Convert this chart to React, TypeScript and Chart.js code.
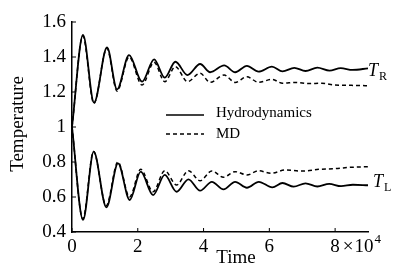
import { useEffect, useRef } from "react";
import { Chart, registerables } from "chart.js";
Chart.register(...registerables);

// ---- data (time, temperature) ----
const TR_HYDRO_T = [0, 3350, 6700, 10650, 13700, 17350, 21300, 24960, 28200, 31450, 35100, 38960, 42000, 46270, 49620, 53180, 56720, 60790, 64000, 67600, 71000, 74600, 78300, 81700, 85300, 90000];
const TR_HYDRO_V = [1.0, 1.526, 1.139, 1.455, 1.215, 1.411, 1.259, 1.387, 1.282, 1.373, 1.297, 1.36, 1.313, 1.352, 1.313, 1.349, 1.316, 1.345, 1.318, 1.338, 1.32, 1.339, 1.322, 1.336, 1.326, 1.335];

const TR_MD_T = [0, 3300, 6650, 10600, 13700, 17350, 21300, 24960, 28200, 31450, 35100, 38960, 42000, 46270, 49620, 53180, 56720, 60790, 64000, 68000, 72000, 76000, 80000, 85000, 90000];
const TR_MD_V = [1.0, 1.52, 1.135, 1.45, 1.205, 1.4, 1.24, 1.37, 1.259, 1.345, 1.259, 1.307, 1.255, 1.297, 1.255, 1.287, 1.255, 1.272, 1.25, 1.255, 1.248, 1.25, 1.24, 1.238, 1.236];

const TL_HYDRO_T = [0, 3350, 6600, 10450, 14000, 17550, 20900, 24650, 28200, 31800, 35400, 38960, 42520, 46060, 49600, 53180, 56800, 60900, 64000, 67400, 71000, 74600, 78200, 81800, 85400, 90000];
const TL_HYDRO_V = [1.0, 0.469, 0.859, 0.541, 0.792, 0.583, 0.745, 0.611, 0.726, 0.63, 0.701, 0.636, 0.687, 0.644, 0.687, 0.653, 0.687, 0.655, 0.68, 0.659, 0.678, 0.66, 0.675, 0.662, 0.67, 0.667];

const TL_MD_T = [0, 3300, 6550, 10400, 13950, 17500, 20900, 24650, 28200, 31800, 35400, 38960, 42520, 46060, 49600, 53180, 56800, 60500, 64800, 70000, 75000, 80000, 85000, 90000];
const TL_MD_V = [1.0, 0.475, 0.86, 0.55, 0.8, 0.6, 0.758, 0.63, 0.75, 0.669, 0.75, 0.693, 0.749, 0.713, 0.745, 0.726, 0.75, 0.735, 0.754, 0.748, 0.758, 0.762, 0.77, 0.773];

const X_TICKS = [0, 20000, 40000, 60000, 80000];
const Y_TICKS = [0.4, 0.6, 0.8, 1.0, 1.2, 1.4, 1.6];
const SERIES_NAMES = ["Hydrodynamics", "MD"];
const X_TITLE = "Time";
const Y_TITLE = "Temperature";

const SERIF = '"Liberation Serif", "Times New Roman", serif';

export default function App() {
  const ref = useRef<HTMLCanvasElement>(null);

  useEffect(() => {
    if (!ref.current) return;
    const pts = (t: number[], v: number[]) => t.map((x, i) => ({ x, y: v[i] }));

    const decor = {
      id: "decor",
      afterDraw(chart: any) {
        const { ctx, chartArea: a, scales } = chart;
        const xs = scales.x;
        const ys = scales.y;
        ctx.save();
        ctx.strokeStyle = "#000";
        ctx.fillStyle = "#000";
        ctx.lineWidth = 1;
        // inward tick marks
        X_TICKS.forEach((v) => {
          const px = xs.getPixelForValue(v);
          ctx.beginPath();
          ctx.moveTo(px, a.bottom);
          ctx.lineTo(px, a.bottom - 4);
          ctx.stroke();
        });
        Y_TICKS.forEach((v) => {
          const py = ys.getPixelForValue(v);
          ctx.beginPath();
          ctx.moveTo(a.left, py);
          ctx.lineTo(a.left + 4, py);
          ctx.stroke();
        });
        // "× 10^4" after the last tick label
        ctx.font = `19px ${SERIF}`;
        ctx.textBaseline = "alphabetic";
        ctx.textAlign = "left";
        const x8 = xs.getPixelForValue(80000);
        const w8 = ctx.measureText("8").width;
        let cx = x8 + w8 / 2 + 3;
        const by = a.bottom + 20;
        ctx.fillText("\u00d7", cx, by);
        cx += ctx.measureText("\u00d7").width + 1;
        ctx.fillText("10", cx, by);
        cx += ctx.measureText("10").width + 1;
        ctx.font = `13px ${SERIF}`;
        ctx.fillText("4", cx, by - 9);

        // axis titles
        ctx.font = `19px ${SERIF}`;
        ctx.textAlign = "center";
        ctx.textBaseline = "middle";
        ctx.fillText(X_TITLE, 236, 258);
        ctx.save();
        ctx.translate(18, 124);
        ctx.rotate(-Math.PI / 2);
        ctx.fillText(Y_TITLE, 0, 0);
        ctx.restore();

        // legend
        ctx.lineWidth = 1.6;
        ctx.setLineDash([]);
        ctx.beginPath();
        ctx.moveTo(166, 115);
        ctx.lineTo(204, 115);
        ctx.stroke();
        ctx.lineWidth = 1.4;
        ctx.setLineDash([4, 3]);
        ctx.beginPath();
        ctx.moveTo(166, 134);
        ctx.lineTo(204, 134);
        ctx.stroke();
        ctx.setLineDash([]);
        ctx.font = `15px ${SERIF}`;
        ctx.textAlign = "left";
        ctx.textBaseline = "alphabetic";
        ctx.fillText(SERIES_NAMES[0], 216, 117);
        ctx.fillText(SERIES_NAMES[1], 216, 138);

        // curve labels
        ctx.font = `italic 18px ${SERIF}`;
        ctx.fillText("T", 368, 76);
        ctx.fillText("T", 373, 187);
        ctx.font = `12px ${SERIF}`;
        ctx.fillText("R", 379, 80);
        ctx.fillText("L", 384, 191);
        ctx.restore();
      },
    };

    const chart = new Chart(ref.current, {
      type: "line",
      data: {
        datasets: [
          { label: "TR " + SERIES_NAMES[0], data: pts(TR_HYDRO_T, TR_HYDRO_V), borderColor: "#000", borderWidth: 1.8, pointRadius: 0, cubicInterpolationMode: "monotone", fill: false },
          { label: "TR " + SERIES_NAMES[1], data: pts(TR_MD_T, TR_MD_V), borderColor: "#000", borderWidth: 1.5, borderDash: [4, 3], pointRadius: 0, cubicInterpolationMode: "monotone", fill: false },
          { label: "TL " + SERIES_NAMES[0], data: pts(TL_HYDRO_T, TL_HYDRO_V), borderColor: "#000", borderWidth: 1.8, pointRadius: 0, cubicInterpolationMode: "monotone", fill: false },
          { label: "TL " + SERIES_NAMES[1], data: pts(TL_MD_T, TL_MD_V), borderColor: "#000", borderWidth: 1.5, borderDash: [4, 3], pointRadius: 0, cubicInterpolationMode: "monotone", fill: false },
        ],
      },
      options: {
        responsive: false,
        animation: false,
        layout: { padding: { top: 22, right: 28, left: 0, bottom: 0 } },
        plugins: { legend: { display: false }, tooltip: { enabled: false } },
        scales: {
          x: {
            type: "linear",
            min: 0,
            max: 90000,
            afterBuildTicks: (s: any) => {
              s.ticks = X_TICKS.map((v) => ({ value: v }));
            },
            afterFit: (s: any) => {
              s.height = 36;
            },
            grid: { display: false, drawTicks: false },
            border: { display: true, color: "#000", width: 1.5 },
            ticks: {
              color: "#000",
              font: { family: SERIF, size: 19 },
              padding: 4,
              maxRotation: 0,
              autoSkip: false,
              callback: (v: any) => String(Math.round(Number(v) / 10000)),
            },
          },
          y: {
            type: "linear",
            min: 0.4,
            max: 1.6,
            afterBuildTicks: (s: any) => {
              s.ticks = Y_TICKS.map((v) => ({ value: v }));
            },
            afterFit: (s: any) => {
              s.width = 72;
            },
            grid: { display: false, drawTicks: false },
            border: { display: true, color: "#000", width: 1.5 },
            ticks: {
              color: "#000",
              font: { family: SERIF, size: 19 },
              padding: 6,
              autoSkip: false,
              callback: (v: any) => String(Number(Number(v).toFixed(1))),
            },
          },
        },
      },
      plugins: [decor],
    } as any);

    return () => chart.destroy();
  }, []);

  return (
    <div style={{ position: "absolute", left: 0, top: 0, width: 396, height: 268, background: "#fff" }}>
      <canvas ref={ref} width={396} height={268} style={{ width: 396, height: 268 }} />
    </div>
  );
}
